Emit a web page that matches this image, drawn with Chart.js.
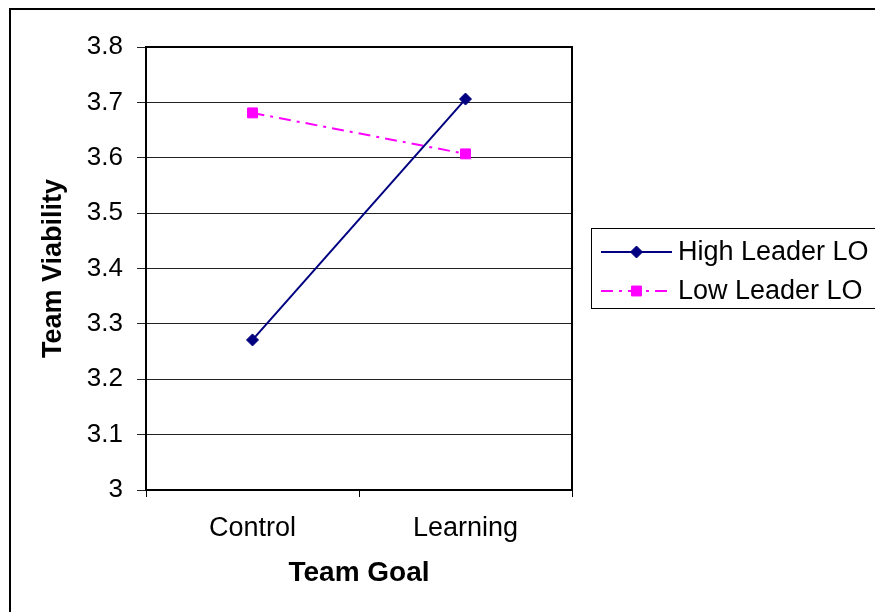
<!DOCTYPE html>
<html lang="en">
<head>
  <meta charset="UTF-8">
  <title>Team Viability</title>
  <style>
    body {
      margin: 0;
      background-color: white;
    }
    .wrap {
      width: 875px;
      height: 612px;
      position: relative;
    }
  </style>
  <script src="https://cdn.jsdelivr.net/npm/chart.js"></script>
</head>
<body>
  <div class="wrap">
    <canvas id="viabilityChart" width="875" height="612"></canvas>
  </div>

  <script>
    const goals = ['Control', 'Learning'];
    const highLeader = [3.271, 3.706];
    const lowLeader = [3.681, 3.607];
    const yMin = 3;
    const yMax = 3.8;
    const yStep = 0.1;

    const font = "'Liberation Sans', Arial, sans-serif";

    // outer frame + plot box
    const framePlugin = {
      id: 'frame',
      beforeDraw(chart) {
        const c = chart.ctx;
        c.save();
        c.fillStyle = '#fff';
        c.fillRect(0, 0, chart.width, chart.height);
        c.strokeStyle = '#000';
        c.lineWidth = 2;
        c.beginPath();
        c.moveTo(10, chart.height + 5);
        c.lineTo(10, 9);
        c.lineTo(chart.width + 5, 9);
        c.stroke();
        c.restore();
      },
      beforeDatasetsDraw(chart) {
        const a = chart.chartArea;
        const c = chart.ctx;
        c.save();
        c.strokeStyle = '#000';
        c.lineWidth = 2;
        c.strokeRect(a.left, a.top, a.right - a.left, a.bottom - a.top);
        c.restore();
      }
    };

    // legend box on the right
    const legendPlugin = {
      id: 'boxLegend',
      afterDraw(chart) {
        const c = chart.ctx;
        c.save();
        c.strokeStyle = '#000';
        c.lineWidth = 1;
        c.strokeRect(591.5, 228.5, 300, 80);
        const rows = [252, 291];
        chart.data.datasets.forEach((ds, i) => {
          const y = rows[i];
          c.strokeStyle = ds.borderColor;
          c.lineWidth = ds.borderWidth;
          c.setLineDash(ds.borderDash || []);
          c.beginPath();
          c.moveTo(601, y);
          c.lineTo(672, y);
          c.stroke();
          c.setLineDash([]);
          c.fillStyle = ds.pointBackgroundColor;
          c.strokeStyle = ds.pointBorderColor;
          c.lineWidth = 1;
          Chart.helpers.drawPoint(c, {
            pointStyle: ds.pointStyle,
            radius: ds.pointRadius,
            rotation: 0,
            borderWidth: 1
          }, 636.5, y);
          c.fillStyle = '#000';
          c.font = '27px ' + font;
          c.textBaseline = 'middle';
          c.fillText(ds.label, 678, y + 1);
        });
        c.restore();
      }
    };

    const ctx = document.getElementById('viabilityChart').getContext('2d');
    const viabilityChart = new Chart(ctx, {
      type: 'line',
      data: {
        labels: goals,
        datasets: [{
          label: 'High Leader LO',
          data: highLeader,
          borderColor: '#000080',
          borderWidth: 2,
          pointStyle: 'rectRot',
          pointRadius: 6,
          pointBackgroundColor: '#000080',
          pointBorderColor: '#000080',
          pointBorderWidth: 1,
          tension: 0,
          fill: false
        }, {
          label: 'Low Leader LO',
          data: lowLeader,
          borderColor: '#FF00FF',
          borderWidth: 2,
          borderDash: [12, 6, 3, 6],
          pointStyle: 'rect',
          pointRadius: 7,
          pointBackgroundColor: '#FF00FF',
          pointBorderColor: '#FF00FF',
          pointBorderWidth: 1,
          tension: 0,
          fill: false
        }]
      },
      options: {
        responsive: false,
        animation: false,
        layout: {
          padding: { top: 47, right: 303, bottom: 0, left: 0 }
        },
        scales: {
          x: {
            type: 'category',
            offset: true,
            grid: {
              offset: true,
              drawOnChartArea: false,
              drawTicks: true,
              tickLength: 7,
              color: '#000'
            },
            border: { display: false },
            ticks: {
              color: '#000',
              padding: 15,
              font: { family: font, size: 27 }
            },
            title: {
              display: true,
              text: 'Team Goal',
              color: '#000',
              font: { family: font, size: 28, weight: 'bold' },
              padding: { top: 0, bottom: 22 }
            },
            afterFit(scale) {
              scale.height = 122;
            }
          },
          y: {
            min: yMin,
            max: yMax,
            grid: {
              color: '#222',
              lineWidth: 1,
              tickLength: 9
            },
            border: { display: false },
            ticks: {
              stepSize: yStep,
              color: '#000',
              padding: 14,
              font: { family: font, size: 26 },
              callback: (v) => String(+Number(v).toFixed(1))
            },
            title: {
              display: true,
              text: 'Team Viability',
              color: '#000',
              font: { family: font, size: 27, weight: 'bold' },
              padding: { top: 37, bottom: 0 }
            },
            afterFit(scale) {
              scale.width = 146;
            }
          }
        },
        plugins: {
          legend: { display: false },
          tooltip: { enabled: false }
        }
      },
      plugins: [framePlugin, legendPlugin]
    });
  </script>
</body>
</html>
